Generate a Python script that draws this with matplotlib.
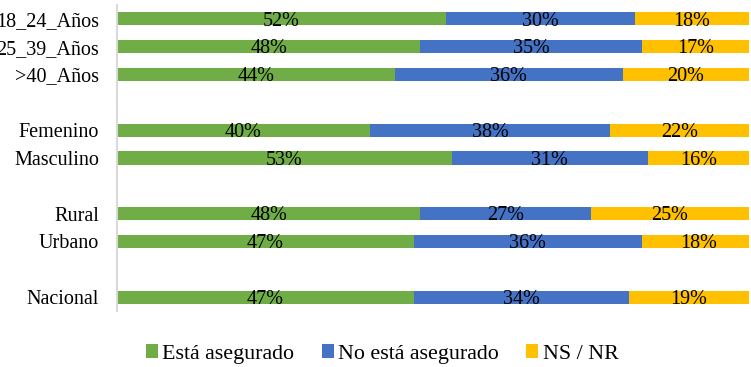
import matplotlib.pyplot as plt

plt.rcParams['font.family'] = ['Liberation Serif', 'DejaVu Serif']

# Categorías (las cadenas vacías dejan un hueco entre grupos)
categorias = ["18_24_Años", "25_39_Años", ">40_Años", "",
              "Femenino", "Masculino", "",
              "Rural", "Urbano", "",
              "Nacional"]

asegurado = [52, 48, 44, None, 40, 53, None, 48, 47, None, 47]
no_asegurado = [30, 35, 36, None, 38, 31, None, 27, 36, None, 34]
ns_nr = [18, 17, 20, None, 22, 16, None, 25, 18, None, 19]

series = ["Está asegurado", "No está asegurado", "NS / NR"]
colores = ["#70AD47", "#4472C4", "#FFC000"]

fig = plt.figure(figsize=(7.51, 3.67), dpi=100)
ax = fig.add_axes([117 / 751, 1 - 311 / 367, 632 / 751, 306 / 367])

filas = [i for i, c in enumerate(categorias) if c]
izquierda = {i: 0 for i in filas}
for nombre, valores, color in zip(series, [asegurado, no_asegurado, ns_nr], colores):
    ys = filas
    vs = [valores[i] for i in filas]
    lefts = [izquierda[i] for i in filas]
    ax.barh(ys, vs, left=lefts, height=0.47, color=color, label=nombre)
    for y, v, l in zip(ys, vs, lefts):
        ax.text(l + v / 2, y + 0.08, f"{v}%", ha="center", va="center",
                fontsize=14.5, color="black")
        izquierda[y] += v

ax.set_xlim(0, 100)
ax.set_ylim(10.5, -0.5)
ax.set_yticks(range(len(categorias)))
ax.set_yticklabels(categorias, fontsize=14.5)
ax.set_xticks([])
ax.tick_params(axis="y", length=0, pad=13)
for lado in ["top", "right", "bottom"]:
    ax.spines[lado].set_visible(False)
ax.spines["left"].set_color("#D9D9D9")
ax.spines["left"].set_linewidth(1.5)

fig.legend(loc="center", bbox_to_anchor=(382 / 751, 1 - 354 / 367), ncol=3,
           frameon=False, fontsize=15.8, handlelength=0.55, handleheight=0.55,
           handletextpad=0.2, columnspacing=1.25)

fig.savefig("out.png", dpi=100)
